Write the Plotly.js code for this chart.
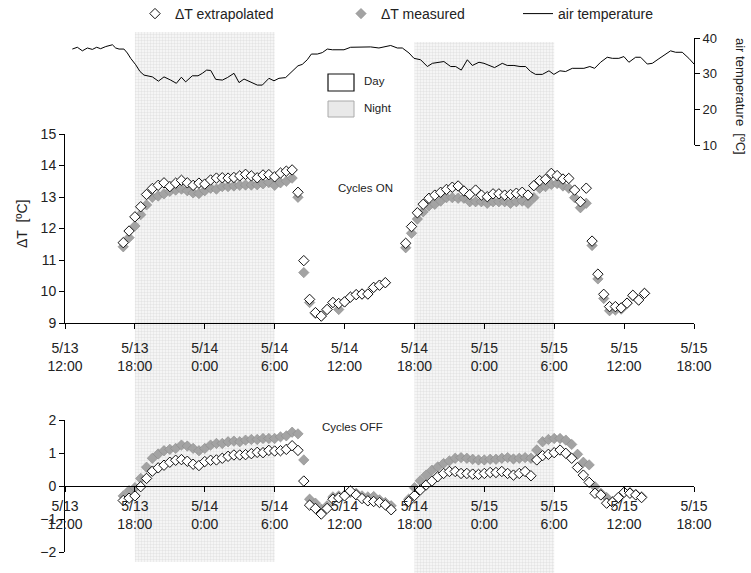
<!DOCTYPE html>
<html><head><meta charset="utf-8">
<script src="https://cdn.plot.ly/plotly-3.0.1.min.js"></script>
<style>html,body{margin:0;padding:0;background:#fff}#chart{width:751px;height:573px}</style>
</head><body><div id="chart"></div>
<script>
// hours after 5/13 12:00
const tickHours = [0, 6, 12, 18, 24, 30, 36, 42, 48, 54];
const tickLabels = ['5/13<br>12:00','5/13<br>18:00','5/14<br>0:00','5/14<br>6:00','5/14<br>12:00',
                    '5/14<br>18:00','5/15<br>0:00','5/15<br>6:00','5/15<br>12:00','5/15<br>18:00'];

const nightStart = [6, 30];
const nightEnd = [18, 42];

// half-hourly sampling: start hour of each run
const onRun1Start = 5, onRun2Start = 29.25, offRun1Start = 5, offRun2Start = 29.5;

const onMeasured1 = [11.42,11.71,12.08,12.44,12.75,12.99,13.03,13.10,13.18,13.22,
  13.25,13.20,13.13,13.11,13.20,13.28,13.25,13.33,13.33,13.35,
  13.37,13.38,13.38,13.39,13.42,13.46,13.37,13.45,13.50,13.60,
  12.99,10.60,9.65,9.30,9.22,9.43,9.65,9.43,9.67,9.82,
  9.90,9.92,9.92,10.13,10.20,10.28];
const onExtrap1 = [11.55,11.92,12.37,12.69,13.08,13.27,13.37,13.45,13.33,13.44,
  13.53,13.45,13.37,13.44,13.41,13.54,13.60,13.61,13.60,13.62,
  13.67,13.72,13.67,13.61,13.70,13.71,13.64,13.76,13.82,13.86,
  13.15,10.98,9.75,9.33,9.22,9.43,9.65,9.62,9.67,9.82,
  9.90,9.92,9.92,10.13,10.20,10.28];
const onMeasured2 = [11.39,11.85,12.30,12.53,12.72,12.77,12.87,12.98,12.98,12.96,
  12.96,12.85,12.85,12.85,12.80,12.85,12.85,12.85,12.80,12.85,
  12.87,12.80,12.98,13.28,13.33,13.40,13.43,13.35,13.28,12.98,
  12.66,12.80,11.46,10.40,9.78,9.39,9.41,9.44,9.63,9.86,
  9.73,9.94];
const onExtrap2 = [11.53,12.06,12.50,12.77,12.96,13.06,13.15,13.24,13.31,13.35,
  13.19,13.08,13.22,13.06,13.01,13.10,13.10,13.06,13.08,13.12,
  13.15,13.06,13.36,13.52,13.56,13.75,13.68,13.57,13.59,13.22,
  12.85,13.28,11.60,10.55,9.91,9.52,9.52,9.48,9.63,9.88,
  9.73,9.94];

const offMeasured1 = [-0.30,-0.14,-0.05,0.23,0.57,0.84,0.97,1.07,1.11,1.14,
  1.24,1.21,1.14,1.07,1.14,1.24,1.29,1.29,1.34,1.36,
  1.34,1.39,1.41,1.41,1.44,1.44,1.44,1.49,1.52,1.63,
  1.58,0.79,-0.40,-0.52,-0.70,-0.60,-0.33,-0.30,-0.28,-0.20,
  -0.22,-0.30,-0.33,-0.32,-0.42,-0.50,-0.60];
const offExtrap1 = [-0.44,-0.37,-0.30,-0.02,0.23,0.45,0.55,0.63,0.72,0.78,
  0.80,0.75,0.66,0.62,0.74,0.78,0.79,0.84,0.90,0.94,
  0.94,0.95,0.98,1.02,1.01,1.08,1.06,1.07,1.11,1.22,
  1.08,0.15,-0.58,-0.68,-0.85,-0.68,-0.40,-0.36,-0.30,-0.15,
  -0.27,-0.38,-0.45,-0.47,-0.50,-0.57,-0.72];
const offMeasured2 = [-0.40,-0.05,0.16,0.33,0.48,0.58,0.68,0.76,0.84,0.86,
  0.84,0.81,0.79,0.79,0.81,0.81,0.84,0.86,0.82,0.84,
  0.86,0.84,1.09,1.34,1.41,1.44,1.44,1.39,1.26,0.96,
  0.72,0.64,-0.02,-0.22,-0.35,-0.48,-0.39,-0.19,-0.19,-0.25,
  -0.32];
const offExtrap2 = [-0.47,-0.29,-0.12,0.03,0.15,0.28,0.38,0.44,0.44,0.38,
  0.38,0.36,0.35,0.38,0.41,0.41,0.44,0.38,0.33,0.38,
  0.44,0.31,0.79,0.92,0.96,1.01,1.09,0.99,0.84,0.56,
  0.33,0.11,-0.22,-0.27,-0.52,-0.49,-0.35,-0.19,-0.22,-0.27,
  -0.35];

const airHours = [0.63,1.06,1.49,1.92,2.35,2.72,3.06,3.5,4.07,4.35,
  4.64,5.06,5.35,5.64,6.07,6.44,6.78,7.13,7.5,8.02,
  8.5,9.07,9.56,9.99,10.36,10.93,11.42,11.79,12.16,12.51,
  12.94,13.51,13.94,14.51,14.94,15.37,15.94,16.51,16.94,17.51,
  17.94,18.37,18.94,19.37,20.0,20.37,20.8,21.15,21.66,22.09,
  22.52,22.95,23.52,23.95,24.52,25.1,25.67,26.24,26.95,27.53,
  27.96,28.53,28.96,29.53,29.96,30.53,31.11,31.54,32.25,32.53,
  33.11,33.54,34.02,34.54,34.97,35.54,35.97,36.39,36.88,37.54,
  37.97,38.54,39.06,39.55,39.97,40.4,40.98,41.55,41.97,42.49,
  42.98,43.55,44.12,44.55,45.06,45.47,45.98,46.55,46.99,47.55,
  47.98,48.41,48.99,49.42,49.99,50.42,50.99,51.42,51.99,52.42,
  52.99,53.56,54.0];
const airTemp = [36.9,37.4,36.4,37.2,36.8,37.4,37.0,37.6,38.1,37.2,
  36.9,36.9,35.8,34.3,32.5,30.6,29.6,29.4,29.1,27.9,
  29.1,28.2,27.3,29.0,27.7,29.4,29.4,30.1,31.0,30.9,
  28.4,28.2,28.9,30.1,27.5,28.5,27.6,26.8,26.8,28.7,
  28.0,28.7,28.9,30.3,32.2,32.6,33.9,35.5,35.5,35.9,
  36.9,36.7,36.7,36.7,37.4,37.4,37.6,37.5,37.2,37.6,
  37.9,37.2,37.2,35.8,34.3,33.9,32.0,32.9,33.4,33.4,
  32.0,32.0,31.0,33.9,32.3,33.2,32.9,32.3,31.7,32.9,
  32.3,32.3,32.0,32.0,30.6,29.8,29.8,30.8,29.8,30.8,
  30.6,31.5,31.5,31.5,32.0,31.5,33.2,34.6,34.3,34.3,
  34.8,33.2,34.6,34.6,32.7,32.9,34.2,35.1,36.4,36.0,
  36.0,34.3,32.7];

function halfHourly(start, n) { return Array.from({length: n}, (_, i) => start + 0.5 * i); }

const onHours = halfHourly(onRun1Start, onMeasured1.length).concat(halfHourly(onRun2Start, onMeasured2.length));
const offHours = halfHourly(offRun1Start, offMeasured1.length).concat(halfHourly(offRun2Start, offMeasured2.length));

const FONT = 'Liberation Sans, Arial, sans-serif';
const measMarker = {symbol: 'diamond', size: 8, color: '#a3a3a3', line: {color: '#8a8a8a', width: 0.6}};
const extMarker = {symbol: 'diamond', size: 8, color: '#ffffff', line: {color: '#111', width: 1}};

const traces = [
  {type: 'bar', x: nightStart.map((s, i) => (s + nightEnd[i]) / 2), width: nightStart.map((s, i) => nightEnd[i] - s),
   y: [0.925, 0.9267], base: [0.0192, 0], xaxis: 'x', yaxis: 'y', showlegend: false, hoverinfo: 'skip',
   marker: {color: '#f3f3f3', line: {width: 0}, pattern: {shape: '+', fgcolor: '#d6d6d6', bgcolor: '#f5f5f5', size: 3, solidity: 0.2}}},
  {type: 'scatter', mode: 'lines', name: 'air temperature', x: airHours, y: airTemp, xaxis: 'x', yaxis: 'y2',
   line: {color: '#000', width: 1}, legend: 'legend3'},
  {type: 'scatter', mode: 'markers', name: 'ΔT measured', x: onHours, y: onMeasured1.concat(onMeasured2), xaxis: 'x', yaxis: 'y3',
   marker: measMarker, legend: 'legend2'},
  {type: 'scatter', mode: 'markers', name: 'ΔT extrapolated', x: onHours, y: onExtrap1.concat(onExtrap2), xaxis: 'x', yaxis: 'y3',
   marker: extMarker, legend: 'legend'},
  {type: 'scatter', mode: 'markers', name: 'ΔT measured', x: offHours, y: offMeasured1.concat(offMeasured2), xaxis: 'x2', yaxis: 'y4',
   marker: measMarker, showlegend: false},
  {type: 'scatter', mode: 'markers', name: 'ΔT extrapolated', x: offHours, y: offExtrap1.concat(offExtrap2), xaxis: 'x2', yaxis: 'y4',
   marker: extMarker, showlegend: false}
];

const W = 751, H = 573;
const px = v => v / W, py = v => 1 - v / H;
const xDom = [px(65), px(694)];
const axCommon = {showgrid: false, zeroline: false, showline: true, linecolor: '#000', linewidth: 1, automargin: false,
  ticks: 'outside', ticklen: 5, tickcolor: '#000', tickfont: {family: FONT, size: 14, color: '#222'}};
const bottomDom = [py(552), py(420)];
const legBase = {orientation: 'h', xanchor: 'left', y: py(-2), yanchor: 'top',
  font: {family: FONT, size: 14, color: '#222'}, bgcolor: 'rgba(0,0,0,0)'};

const layout = {
  width: W, height: H, margin: {l: 0, r: 0, t: 0, b: 0, autoexpand: false},
  paper_bgcolor: '#fff', plot_bgcolor: 'rgba(0,0,0,0)',
  font: {family: FONT, color: '#222'},
  barmode: 'overlay',
  showlegend: true,
  legend: Object.assign({}, legBase, {x: px(135)}),
  legend2: Object.assign({}, legBase, {x: px(341)}),
  legend3: Object.assign({}, legBase, {x: px(518)}),
  xaxis: Object.assign({}, axCommon, {domain: xDom, range: [0, 54], anchor: 'y3', tickvals: tickHours, ticktext: tickLabels, ticklabelstandoff: 7}),
  xaxis2: Object.assign({}, axCommon, {domain: xDom, range: [0, 54], anchor: 'free', position: (bottomDom[0] + bottomDom[1]) / 2,
           tickvals: tickHours, ticktext: tickLabels, ticklabelstandoff: 2}),
  yaxis: {domain: [0, 1], range: [0, 1], visible: false, fixedrange: true},
  yaxis2: Object.assign({}, axCommon, {domain: [py(145), py(38)], range: [10, 40], anchor: 'x', side: 'right', dtick: 10,
           tickfont: {family: FONT, size: 13, color: '#222'}}),
  yaxis5: {overlaying: 'y2', anchor: 'x', side: 'right', range: [10, 40], dtick: 10, ticks: 'inside', ticklen: 5,
           tickcolor: '#000', showticklabels: false, showline: false, showgrid: false, zeroline: false, automargin: false},
  yaxis3: Object.assign({}, axCommon, {domain: [py(323), py(134)], range: [9, 15], anchor: 'x', dtick: 1}),
  yaxis4: Object.assign({}, axCommon, {domain: bottomDom, range: [-2, 2], anchor: 'x2', dtick: 1}),
  shapes: [
    {type: 'rect', xref: 'paper', yref: 'paper', x0: px(328), x1: px(354), y0: py(91), y1: py(74),
     line: {color: '#111', width: 1.2}, fillcolor: '#fff'},
    {type: 'rect', xref: 'paper', yref: 'paper', x0: px(328), x1: px(354), y0: py(117), y1: py(101),
     line: {color: '#aaa', width: 1}, fillcolor: '#e9e9e9'}
  ],
  annotations: [
    {text: 'Day', xref: 'paper', yref: 'paper', x: px(362), y: py(81), xanchor: 'left', yanchor: 'middle', showarrow: false,
     font: {family: FONT, size: 11.5, color: '#222'}},
    {text: 'Night', xref: 'paper', yref: 'paper', x: px(362), y: py(108), xanchor: 'left', yanchor: 'middle', showarrow: false,
     font: {family: FONT, size: 11.5, color: '#222'}},
    {text: 'Cycles ON', xref: 'paper', yref: 'paper', x: px(336), y: py(188), xanchor: 'left', yanchor: 'middle', showarrow: false,
     font: {family: FONT, size: 11.5, color: '#222'}},
    {text: 'Cycles OFF', xref: 'paper', yref: 'paper', x: px(320), y: py(427), xanchor: 'left', yanchor: 'middle', showarrow: false,
     font: {family: FONT, size: 11.5, color: '#222'}},
    {text: 'ΔT  [ºC]', xref: 'paper', yref: 'paper', x: px(22), y: py(224), xanchor: 'center', yanchor: 'middle', showarrow: false,
     textangle: -90, font: {family: FONT, size: 14, color: '#222'}},
    {text: 'air temperature  [ºC]', xref: 'paper', yref: 'paper', x: px(740), y: py(96), xanchor: 'center', yanchor: 'middle', showarrow: false,
     textangle: 90, font: {family: FONT, size: 13, color: '#222'}}
  ]
};

Plotly.newPlot('chart', traces, layout, {displayModeBar: false, staticPlot: true});
</script>
</body></html>
